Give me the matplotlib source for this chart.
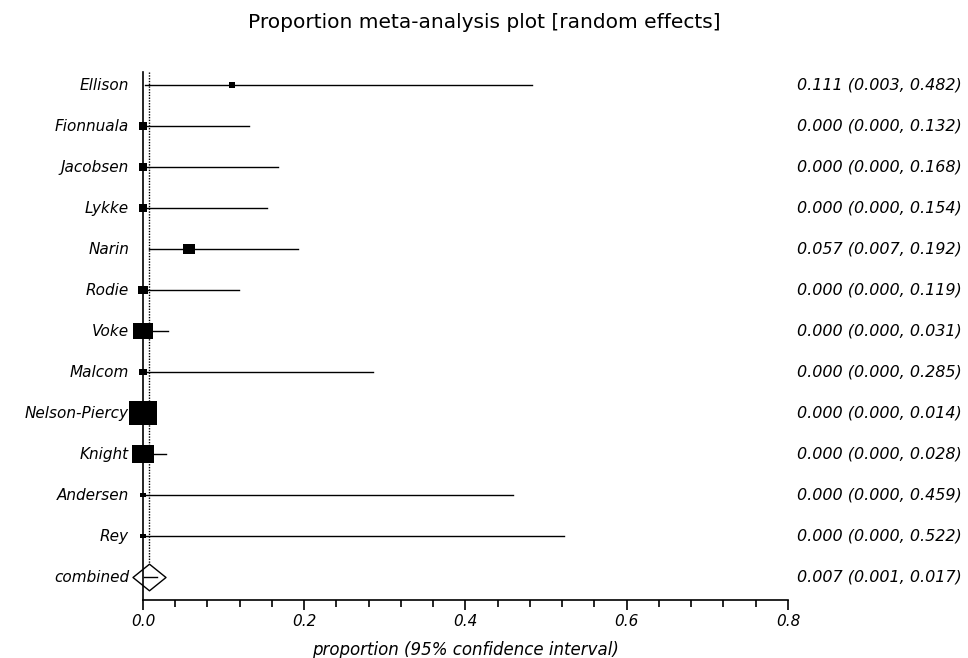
import matplotlib.pyplot as plt
from matplotlib.path import Path
from matplotlib.ticker import MultipleLocator
from matplotlib.transforms import blended_transform_factory

plt.rcParams['font.family'] = ['DejaVu Sans']

# data
studies = ['Ellison', 'Fionnuala', 'Jacobsen', 'Lykke', 'Narin', 'Rodie', 'Voke',
           'Malcom', 'Nelson-Piercy', 'Knight', 'Andersen', 'Rey']
prop = [0.111, 0.000, 0.000, 0.000, 0.057, 0.000, 0.000, 0.000, 0.000, 0.000, 0.000, 0.000]
lower = [0.003, 0.000, 0.000, 0.000, 0.007, 0.000, 0.000, 0.000, 0.000, 0.000, 0.000, 0.000]
upper = [0.482, 0.132, 0.168, 0.154, 0.192, 0.119, 0.031, 0.285, 0.014, 0.028, 0.459, 0.522]
weights = [2.1, 3.5, 3.5, 3.5, 5.3, 4.4, 17.4, 2.8, 34.2, 21.1, 1.1, 1.1]  # percent
comb_prop, comb_low, comb_up = 0.007, 0.001, 0.017

fig = plt.figure(figsize=(9.68, 6.58), dpi=100)
ax = fig.add_axes([0.1477, 0.0881, 0.6663, 0.8024])
right_tr = blended_transform_factory(fig.transFigure, ax.transData)
left_tr = ax.get_yaxis_transform()
y_top, y_bot = -0.317, 12.56

# slightly wide rectangles, like the original program draws them
rect = Path([(-0.6, -0.5), (0.6, -0.5), (0.6, 0.5), (-0.6, 0.5), (-0.6, -0.5)],
            [Path.MOVETO, Path.LINETO, Path.LINETO, Path.LINETO, Path.CLOSEPOLY])
diamond = Path([(-0.62, 0), (0, 0.5), (0.62, 0), (0, -0.5), (-0.62, 0)],
               [Path.MOVETO, Path.LINETO, Path.LINETO, Path.LINETO, Path.CLOSEPOLY])

for i, name in enumerate(studies):
    ax.plot([lower[i], upper[i]], [i, i], color='black', lw=1, clip_on=False, zorder=3)
    size = 47.9 * (weights[i] / 100) ** 0.5 * 0.72
    ax.plot(prop[i], i, marker=rect, ms=size, color='black', mew=0, clip_on=False, zorder=3)
    ax.text(-14 / 645, i, name, ha='right', va='center', style='italic', fontsize=11,
            transform=left_tr)
    ax.text(962 / 968, i, f'{prop[i]:.3f} ({lower[i]:.3f}, {upper[i]:.3f})',
            ha='right', va='center', style='italic', fontsize=11.5, transform=right_tr)

n = len(studies)
# dotted line at the pooled estimate, ending behind the diamond
ax.plot([comb_prop, comb_prop], [y_top, n], color='black', lw=1, ls=(0, (1, 1)), zorder=1)
ax.plot(comb_prop, n, marker=diamond, ms=33 * 0.72, mfc='white', mec='black', mew=1,
        clip_on=False, zorder=2)
ax.plot([comb_low, comb_up], [n, n], color='black', lw=1, clip_on=False, zorder=3)
ax.text(-14 / 645, n, 'combined', ha='right', va='center', style='italic', fontsize=11,
        transform=left_tr)
ax.text(962 / 968, n, f'{comb_prop:.3f} ({comb_low:.3f}, {comb_up:.3f})',
        ha='right', va='center', style='italic', fontsize=11.5, transform=right_tr)

ax.set_xlim(0, 0.8)
ax.set_ylim(y_bot, y_top)
ax.spines['top'].set_visible(False)
ax.spines['right'].set_visible(False)
ax.spines['left'].set_linewidth(1.2)
ax.spines['bottom'].set_linewidth(1.2)
ax.set_yticks([])
ax.xaxis.set_major_locator(MultipleLocator(0.2))
ax.xaxis.set_minor_locator(MultipleLocator(0.04))
ax.xaxis.set_major_formatter(plt.FuncFormatter(lambda v, p: f'{v:.1f}'))
ax.tick_params(axis='x', which='major', length=7, width=1.2, direction='out', pad=3)
ax.tick_params(axis='x', which='minor', length=5, width=1.2, direction='out')
for lab in ax.get_xticklabels():
    lab.set_style('italic')
    lab.set_fontsize(11)
ax.set_xlabel('proportion (95% confidence interval)', style='italic', fontsize=12,
              labelpad=9)

fig.suptitle('Proportion meta-analysis plot [random effects]', fontsize=14.5,
             y=1 - 22 / 658, va='center')

fig.savefig('out.png', dpi=100)
